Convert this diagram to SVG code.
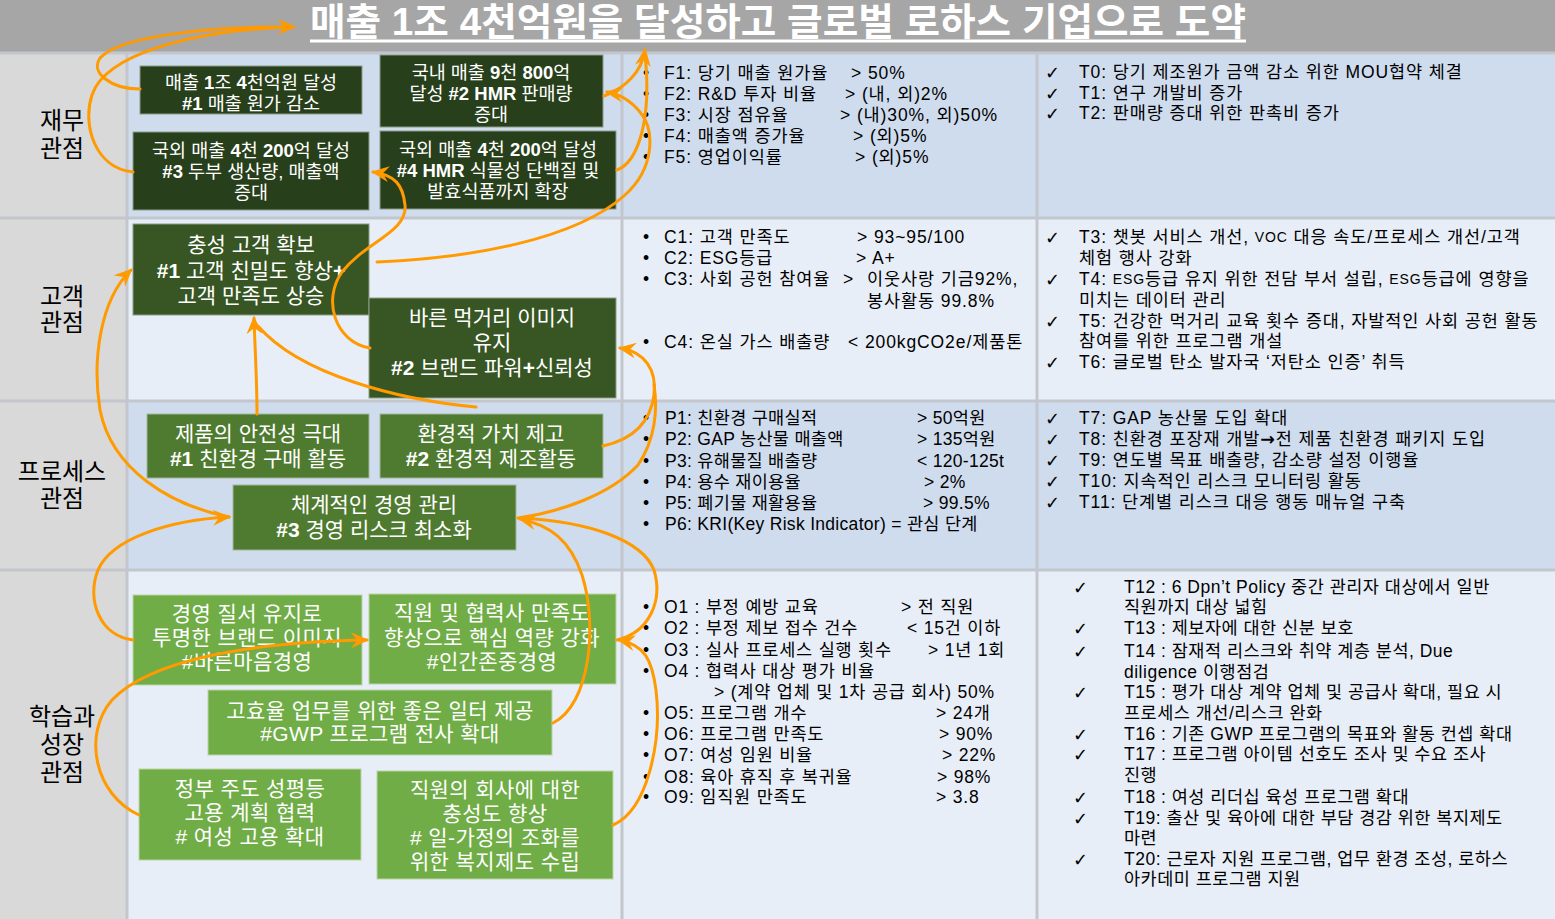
<svg xmlns="http://www.w3.org/2000/svg" width="1555" height="919" viewBox="0 0 1555 919">
<defs>
<style>
text{font-family:"Liberation Sans","Noto Sans CJK KR",sans-serif;dominant-baseline:central}
.lbl{font-size:24px;fill:#000;text-anchor:middle}
.nt{fill:#fff;text-anchor:middle;font-size:21px}
.nt4{fill:#fff;text-anchor:middle;font-size:21px;letter-spacing:0.4px}
.nt18{fill:#fff;text-anchor:middle;font-size:18.5px}
.b{font-weight:bold}
.k{font-size:17.5px;fill:#000;letter-spacing:0.9px}
.kp{font-size:17.5px;fill:#000;letter-spacing:0.3px}
.ko{font-size:17.5px;fill:#000;letter-spacing:0.8px}
.t{font-size:17.5px;fill:#000;letter-spacing:0.9px}
.t2{font-size:17.5px;fill:#000;letter-spacing:0.5px}
.ck{font-family:"DejaVu Sans",sans-serif;font-size:18px;font-weight:bold;fill:#000}
.sm{font-size:14px}
.ar{font-family:"DejaVu Sans",sans-serif;font-weight:bold}
.g1{fill:#283f1b;stroke:#8c9c88;stroke-width:1}
.g2{fill:#375623;stroke:#8c9c88;stroke-width:1}
.g3{fill:#4f7b30;stroke:#a3b59a;stroke-width:1}
.g4{fill:#70ad47;stroke:#b9d4a6;stroke-width:1}
.grid{stroke:#c3c6cc;stroke-width:3;fill:none}
.cn{fill:none;stroke:#ff9a00;stroke-width:3;stroke-linecap:round}
</style>
<marker id="ah" markerUnits="userSpaceOnUse" markerWidth="18" markerHeight="16" viewBox="0 0 18 16" refX="16" refY="8" orient="auto">
<path d="M0,0 L18,8 L0,16 L6,8 z" fill="#ff9a00"/>
</marker>
</defs>

<g id="background">
<rect x="0" y="0" width="1555" height="53" fill="#a6a6a6"/>
<rect x="0" y="53" width="127" height="866" fill="#d9d9d9"/>
<rect x="127" y="53" width="1428" height="165" fill="#cfdcee"/>
<rect x="127" y="218" width="1428" height="183" fill="#e8eef7"/>
<rect x="127" y="401" width="1428" height="169" fill="#cfdcee"/>
<rect x="127" y="570" width="1428" height="349" fill="#e8eef7"/>
<path class="grid" d="M0,53H1555M0,218H1555M0,401H1555M0,570H1555M127,53V919M622,53V919M1037,53V919"/>
</g>

<g id="title">
<text x="310" y="22" fill="#fff" font-size="38" font-weight="bold" textLength="936" lengthAdjust="spacingAndGlyphs">매출 1조 4천억원을 달성하고 글로벌 로하스 기업으로 도약</text>
<line x1="310" y1="41" x2="1246" y2="41" stroke="#fff" stroke-width="3"/>
</g>

<g id="row-labels">
<text class="lbl" x="62" y="120">재무</text>
<text class="lbl" x="62" y="148">관점</text>
<text class="lbl" x="62" y="296">고객</text>
<text class="lbl" x="62" y="322">관점</text>
<text class="lbl" x="62" y="471">프로세스</text>
<text class="lbl" x="62" y="498">관점</text>
<text class="lbl" x="62" y="716">학습과</text>
<text class="lbl" x="62" y="744">성장</text>
<text class="lbl" x="62" y="772">관점</text>
</g>

<g id="node-f1"><rect class="g1" x="140" y="66" width="222" height="48"/>
<text class="nt18" x="251" y="82">매출 <tspan class="b">1</tspan>조 <tspan class="b">4</tspan>천억원 달성</text>
<text class="nt18" x="251" y="103"><tspan class="b">#1</tspan> 매출 원가 감소</text></g>
<g id="node-f2"><rect class="g1" x="380" y="55" width="223" height="72"/>
<text class="nt18" x="491" y="72">국내 매출 <tspan class="b">9</tspan>천 <tspan class="b">800</tspan>억</text>
<text class="nt18" x="491" y="93">달성 <tspan class="b">#2 HMR</tspan> 판매량</text>
<text class="nt18" x="491" y="114">증대</text></g>
<g id="node-f3"><rect class="g1" x="133" y="132" width="236" height="78"/>
<text class="nt18" x="251" y="150">국외 매출 <tspan class="b">4</tspan>천 <tspan class="b">200</tspan>억 달성</text>
<text class="nt18" x="251" y="171"><tspan class="b">#3</tspan> 두부 생산량, 매출액</text>
<text class="nt18" x="251" y="192">증대</text></g>
<g id="node-f4"><rect class="g1" x="380" y="131" width="236" height="78"/>
<text class="nt18" x="498" y="149">국외 매출 <tspan class="b">4</tspan>천 <tspan class="b">200</tspan>억 달성</text>
<text class="nt18" x="498" y="170"><tspan class="b">#4 HMR</tspan> 식물성 단백질 및</text>
<text class="nt18" x="498" y="191">발효식품까지 확장</text></g>

<g id="node-c1"><rect class="g2" x="133" y="224" width="236" height="91"/>
<text class="nt" x="251" y="244">충성 고객 확보</text>
<text class="nt" x="251" y="270"><tspan class="b">#1</tspan> 고객 친밀도 향상<tspan class="b">+</tspan></text>
<text class="nt" x="251" y="295">고객 만족도 상승</text></g>
<g id="node-c2"><rect class="g2" x="369" y="298" width="247" height="100"/>
<text class="nt" x="492" y="317">바른 먹거리 이미지</text>
<text class="nt" x="492" y="342">유지</text>
<text class="nt" x="492" y="367"><tspan class="b">#2</tspan> 브랜드 파워<tspan class="b">+</tspan>신뢰성</text></g>

<g id="node-p1"><rect class="g3" x="147" y="414" width="222" height="64"/>
<text class="nt" x="258" y="433">제품의 안전성 극대</text>
<text class="nt" x="258" y="458"><tspan class="b">#1</tspan> 친환경 구매 활동</text></g>
<g id="node-p2"><rect class="g3" x="380" y="414" width="223" height="64"/>
<text class="nt" x="491" y="433">환경적 가치 제고</text>
<text class="nt" x="491" y="458"><tspan class="b">#2</tspan> 환경적 제조활동</text></g>
<g id="node-p3"><rect class="g3" x="233" y="485" width="283" height="65"/>
<text class="nt" x="374" y="504">체계적인 경영 관리</text>
<text class="nt" x="374" y="529"><tspan class="b">#3</tspan> 경영 리스크 최소화</text></g>

<g id="node-o1"><rect class="g4" x="133" y="595" width="229" height="90"/>
<text class="nt4" x="247" y="613">경영 질서 유지로</text>
<text class="nt4" x="247" y="637">투명한 브랜드 이미지</text>
<text class="nt4" x="247" y="661">#바른마음경영</text></g>
<g id="node-o2"><rect class="g4" x="369" y="594" width="247" height="90"/>
<text class="nt4" x="492" y="612">직원 및 협력사 만족도</text>
<text class="nt4" x="492" y="637">향상으로 핵심 역량 강화</text>
<text class="nt4" x="492" y="661">#인간존중경영</text></g>
<g id="node-o3"><rect class="g4" x="208" y="690" width="344" height="65"/>
<text class="nt4" x="380" y="710">고효율 업무를 위한 좋은 일터 제공</text>
<text class="nt4" x="380" y="733">#GWP 프로그램 전사 확대</text></g>
<g id="node-o4"><rect class="g4" x="139" y="769" width="222" height="91"/>
<text class="nt4" x="250" y="788">정부 주도 성평등</text>
<text class="nt4" x="250" y="812">고용 계획 협력</text>
<text class="nt4" x="250" y="836"># 여성 고용 확대</text></g>
<g id="node-o5"><rect class="g4" x="377" y="771" width="236" height="108"/>
<text class="nt4" x="495" y="789">직원의 회사에 대한</text>
<text class="nt4" x="495" y="813">충성도 향상</text>
<text class="nt4" x="495" y="837"># 일-가정의 조화를</text>
<text class="nt4" x="495" y="861">위한 복지제도 수립</text></g>

<g id="kpi-finance" class="k">
<text x="643" y="73">•</text><text x="664" y="73">F1: 당기 매출 원가율</text><text x="851" y="73">&gt; 50%</text>
<text x="643" y="94">•</text><text x="664" y="94">F2: R&amp;D 투자 비율</text><text x="845" y="94">&gt; (내, 외)2%</text>
<text x="643" y="115">•</text><text x="664" y="115">F3: 시장 점유율</text><text x="840" y="115">&gt; (내)30%,  외)50%</text>
<text x="643" y="136">•</text><text x="664" y="136">F4: 매출액 증가율</text><text x="853" y="136">&gt; (외)5%</text>
<text x="643" y="157">•</text><text x="664" y="157">F5: 영업이익률</text><text x="855" y="157">&gt; (외)5%</text>
</g>
<g id="kpi-customer" class="k">
<text x="643" y="237">•</text><text x="664" y="237">C1: 고객 만족도</text><text x="857" y="237">&gt; 93~95/100</text>
<text x="643" y="258">•</text><text x="664" y="258">C2: ESG등급</text><text x="856" y="258">&gt; A+</text>
<text x="643" y="279">•</text><text x="664" y="279">C3: 사회 공헌 참여율</text><text x="843" y="279">&gt;</text><text x="867" y="279">이웃사랑 기금92%,</text>
<text x="867" y="301">봉사활동 99.8%</text>
<text x="643" y="342">•</text><text x="664" y="342">C4: 온실 가스 배출량</text><text x="848" y="342">&lt; 200kgCO2e/제품톤</text>
</g>
<g id="kpi-process" class="kp">
<text x="643" y="418">•</text><text x="665" y="418">P1: 친환경 구매실적</text><text x="917" y="418">&gt; 50억원</text>
<text x="643" y="439">•</text><text x="665" y="439">P2: GAP 농산물 매출액</text><text x="917" y="439">&gt; 135억원</text>
<text x="643" y="461">•</text><text x="665" y="461">P3: 유해물질 배출량</text><text x="917" y="461">&lt; 120-125t</text>
<text x="643" y="482">•</text><text x="665" y="482">P4: 용수 재이용율</text><text x="924" y="482">&gt; 2%</text>
<text x="643" y="503">•</text><text x="665" y="503">P5: 폐기물 재활용율</text><text x="923" y="503">&gt; 99.5%</text>
<text x="643" y="524">•</text><text x="665" y="524">P6: KRI(Key Risk Indicator) = 관심 단계</text>
</g>
<g id="kpi-learning" class="ko">
<text x="643" y="607">•</text><text x="664" y="607">O1 : 부정 예방 교육</text><text x="901" y="607">&gt; 전 직원</text>
<text x="643" y="628">•</text><text x="664" y="628">O2 : 부정 제보 접수 건수</text><text x="907" y="628">&lt; 15건 이하</text>
<text x="643" y="650">•</text><text x="664" y="650">O3 : 실사 프로세스 실행 횟수</text><text x="928" y="650">&gt; 1년 1회</text>
<text x="643" y="671">•</text><text x="664" y="671">O4 : 협력사 대상 평가 비율</text>
<text x="714" y="692">&gt;  (계약 업체 및 1차 공급 회사) 50%</text>
<text x="643" y="713">•</text><text x="664" y="713">O5: 프로그램 개수</text><text x="936" y="713">&gt; 24개</text>
<text x="643" y="734">•</text><text x="664" y="734">O6: 프로그램 만족도</text><text x="939" y="734">&gt; 90%</text>
<text x="643" y="755">•</text><text x="664" y="755">O7: 여성 임원 비율</text><text x="942" y="755">&gt; 22%</text>
<text x="643" y="777">•</text><text x="664" y="777">O8: 육아 휴직 후 복귀율</text><text x="937" y="777">&gt; 98%</text>
<text x="643" y="797">•</text><text x="664" y="797">O9: 임직원 만족도</text><text x="936" y="797">&gt; 3.8</text>
</g>

<g id="tasks-finance">
<text class="ck" x="1045" y="72">✓</text><text class="t" x="1079" y="72">T0: 당기 제조원가 금액 감소 위한 MOU협약 체결</text>
<text class="ck" x="1045" y="93">✓</text><text class="t" x="1079" y="93">T1: 연구 개발비 증가</text>
<text class="ck" x="1045" y="113">✓</text><text class="t" x="1079" y="113">T2: 판매량 증대 위한 판촉비 증가</text>
</g>
<g id="tasks-customer">
<text class="ck" x="1045" y="237">✓</text><text class="t" x="1079" y="237">T3: 챗봇 서비스 개선, <tspan class="sm">VOC</tspan> 대응 속도/프로세스 개선/고객</text>
<text class="t" x="1079" y="258">체험 행사 강화</text>
<text class="ck" x="1045" y="279">✓</text><text class="t" x="1079" y="279">T4: <tspan class="sm">ESG</tspan>등급 유지 위한 전담 부서 설립, <tspan class="sm">ESG</tspan>등급에 영향을</text>
<text class="t" x="1079" y="300">미치는 데이터 관리</text>
<text class="ck" x="1045" y="321">✓</text><text class="t" x="1079" y="321">T5: 건강한 먹거리 교육 횟수 증대, 자발적인 사회 공헌 활동</text>
<text class="t" x="1079" y="341">참여를 위한 프로그램 개설</text>
<text class="ck" x="1045" y="362">✓</text><text class="t" x="1079" y="362">T6: 글로벌 탄소 발자국 ‘저탄소 인증’ 취득</text>
</g>
<g id="tasks-process">
<text class="ck" x="1045" y="418">✓</text><text class="t" x="1079" y="418">T7: GAP 농산물 도입 확대</text>
<text class="ck" x="1045" y="439">✓</text><text class="t" x="1079" y="439">T8: 친환경 포장재 개발<tspan class="ar">→</tspan>전 제품 친환경 패키지 도입</text>
<text class="ck" x="1045" y="460">✓</text><text class="t" x="1079" y="460">T9: 연도별 목표 배출량, 감소량 설정 이행율</text>
<text class="ck" x="1045" y="481">✓</text><text class="t" x="1079" y="481">T10: 지속적인 리스크 모니터링 활동</text>
<text class="ck" x="1045" y="502">✓</text><text class="t" x="1079" y="502">T11: 단계별 리스크 대응 행동 매뉴얼 구축</text>
</g>
<g id="tasks-learning">
<text class="ck" x="1073" y="587">✓</text><text class="t2" x="1124" y="587">T12 : 6 Dpn’t Policy 중간 관리자 대상에서 일반</text>
<text class="t2" x="1124" y="607">직원까지 대상 넓힘</text>
<text class="ck" x="1073" y="628">✓</text><text class="t2" x="1124" y="628">T13 : 제보자에 대한 신분 보호</text>
<text class="ck" x="1073" y="651">✓</text><text class="t2" x="1124" y="651">T14 : 잠재적 리스크와 취약 계층 분석, Due</text>
<text class="t2" x="1124" y="672">diligence 이행점검</text>
<text class="ck" x="1073" y="692">✓</text><text class="t2" x="1124" y="692">T15 :  평가 대상 계약 업체 및 공급사 확대, 필요 시</text>
<text class="t2" x="1124" y="713">프로세스 개선/리스크 완화</text>
<text class="ck" x="1073" y="734">✓</text><text class="t2" x="1124" y="734">T16 : 기존 GWP 프로그램의 목표와 활동 컨셉 확대</text>
<text class="ck" x="1073" y="754">✓</text><text class="t2" x="1124" y="754">T17 : 프로그램 아이템 선호도 조사 및 수요 조사</text>
<text class="t2" x="1124" y="775">진행</text>
<text class="ck" x="1073" y="797">✓</text><text class="t2" x="1124" y="797">T18 :  여성 리더십 육성 프로그램 확대</text>
<text class="ck" x="1073" y="818">✓</text><text class="t2" x="1124" y="818">T19: 출산 및 육아에 대한 부담 경감 위한 복지제도</text>
<text class="t2" x="1124" y="838">마련</text>
<text class="ck" x="1073" y="859">✓</text><text class="t2" x="1124" y="859">T20: 근로자 지원 프로그램, 업무 환경 조성, 로하스</text>
<text class="t2" x="1124" y="879">아카데미 프로그램 지원</text>
</g>

<g id="connectors">
<path class="cn" d="M140,89 C110,89 90,72 100,58 C118,38 200,26 294,27" marker-end="url(#ah)"/>
<path class="cn" d="M133,172 C95,168 82,125 92,95 C105,55 190,30 292,27"/>
<path class="cn" d="M370,348 C335,342 322,300 342,272 C365,242 408,232 405,205 C403,185 395,175 373,172" marker-end="url(#ah)"/>
<path class="cn" d="M604,96 C625,88 642,72 645,50" marker-end="url(#ah)"/>
<path class="cn" d="M617,170 C638,162 652,120 645,54"/>
<path class="cn" d="M377,262 C470,258 575,240 625,195 C655,168 655,130 640,112 C630,100 620,94 607,92" marker-end="url(#ah)"/>
<path class="cn" d="M257,414 C257,380 255,350 254,318" marker-end="url(#ah)"/>
<path class="cn" d="M476,407 C400,400 300,375 258,326"/>
<path class="cn" d="M603,446 C630,440 650,425 654,395 C657,370 645,352 620,348" marker-end="url(#ah)"/>
<path class="cn" d="M518,518 C560,512 610,495 638,465 C655,440 658,410 654,385"/>
<path class="cn" d="M133,640 C100,636 86,600 98,570 C112,538 170,520 229,517" marker-end="url(#ah)"/>
<path class="cn" d="M229,517 C170,505 112,470 100,410 C92,360 100,300 131,270" marker-end="url(#ah)"/>
<path class="cn" d="M139,815 C95,795 82,735 112,700 C150,660 250,642 367,640" marker-end="url(#ah)"/>
<path class="cn" d="M553,723 C590,705 598,625 582,575 C570,540 550,525 520,519" marker-end="url(#ah)"/>
<path class="cn" d="M617,640 C650,632 663,600 654,570 C642,540 590,522 522,518"/>
<path class="cn" d="M613,825 C648,810 662,740 656,690 C652,660 645,645 619,640" marker-end="url(#ah)"/>
</g>
</svg>
